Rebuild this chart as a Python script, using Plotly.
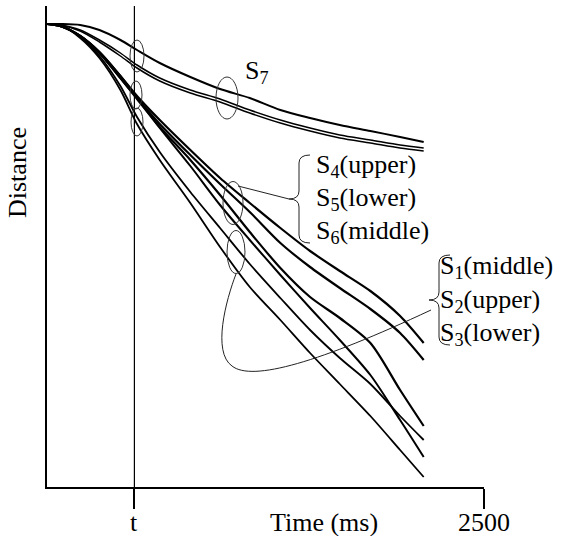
import plotly.graph_objects as go

# ---- data (time in ms, distance in arbitrary units) ----
time_ms = [0, 75, 190, 300, 420, 515, 645, 820, 990, 1160, 1335, 1505, 1675, 1850, 2020, 2155]

s7_upper = [463, 463, 462, 457, 447, 437, 424, 410, 398, 389, 377, 369, 362, 356, 350, 345]
s7_mid = [463, 462, 457, 447, 434, 422, 409, 397, 388, 377, 367, 359, 352, 347, 342, 339]
s7_low = [463, 462, 456, 445, 431, 419, 406, 394, 385, 374, 364, 356, 349, 344, 339, 336]

line_a = [463, 461, 451, 435, 411, 391, 367, 337, 309, 284, 259, 236, 216, 196, 171, 144]
line_b = [463, 461, 451, 434, 409, 389, 363, 332, 303, 275, 244, 220, 199, 178, 154, 127]
line_c = [463, 461, 451, 434, 409, 388, 360, 327, 292, 255, 219, 190, 169, 144, 97, 61]
line_d = [463, 461, 451, 435, 411, 389, 359, 321, 282, 247, 212, 179, 147, 112, 67, 30]
line_e = [463, 462, 450, 431, 401, 370, 335, 295, 259, 223, 189, 157, 129, 103, 71, 47]
line_f = [463, 462, 449, 429, 397, 363, 327, 284, 240, 200, 167, 134, 103, 71, 37, 10]

t_mark = 500
x_max = 2500
tick_vals = [t_mark, x_max]
tick_text = ["t", "2500"]

# ---- layout geometry (pixels) ----
W, H = 567, 536
L, R, T, B = 47, 83, 6, 49
PW, PH = W - L - R, H - T - B
Y_MAX = 481

def X(px):
    return (px - L) / PW * x_max

def Y(py):
    return (H - B - py) / PH * Y_MAX

def XP(px):
    return (px - L) / PW

def YP(py):
    return (H - B - py) / PH

FONT = "Liberation Serif, Times New Roman, serif"

fig = go.Figure()

series = [
    (s7_upper, 2.0), (s7_mid, 1.5), (s7_low, 1.5),
    (line_a, 2.2), (line_b, 2.2), (line_c, 2.2), (line_d, 2.0),
    (line_e, 1.8), (line_f, 1.8),
]
for ys, w in series:
    fig.add_trace(go.Scatter(x=time_ms, y=ys, mode="lines",
                             line=dict(color="black", width=w, shape="spline", smoothing=0.8),
                             showlegend=False, hoverinfo="skip"))

shapes = []
shapes.append(dict(type="line", xref="x", yref="paper", x0=t_mark, x1=t_mark, y0=0, y1=1,
                   line=dict(color="black", width=1.2)))

def ellipse(cx, cy, w, h):
    return dict(type="circle", xref="x", yref="y",
                x0=X(cx - w / 2), x1=X(cx + w / 2), y0=Y(cy + h / 2), y1=Y(cy - h / 2),
                line=dict(color="#333", width=1))

shapes += [ellipse(137, 56, 14, 32), ellipse(136, 95, 12, 28), ellipse(137, 122, 12, 28),
           ellipse(227, 98, 22, 42), ellipse(233, 203, 20, 43), ellipse(236, 252, 18, 43)]

def P(px, py):
    return f"{X(px):.2f},{Y(py):.2f}"

def brace(x, top, bot, tip):
    mid = (top + bot) / 2
    return ("M " + P(x + 11, top) + " Q " + P(x, top) + " " + P(x, top + 8) +
            " L " + P(x, mid - 8) + " Q " + P(x, mid) + " " + P(x - tip, mid) +
            " Q " + P(x, mid) + " " + P(x, mid + 8) +
            " L " + P(x, bot - 8) + " Q " + P(x, bot) + " " + P(x + 11, bot))

shapes.append(dict(type="path", xref="x", yref="y", path=brace(299, 155, 243, 10),
                   line=dict(color="#222", width=1)))
shapes.append(dict(type="path", xref="x", yref="y", path=brace(439, 255, 345, 10),
                   line=dict(color="#222", width=1)))
shapes.append(dict(type="line", xref="x", yref="y", x0=X(238), y0=Y(186), x1=X(289), y1=Y(199),
                   line=dict(color="#222", width=1)))
conn = ("M " + P(236, 274) + " C " + P(226, 300) + " " + P(212, 352) + " " + P(232, 366) +
        " C " + P(252, 382) + " " + P(320, 362) + " " + P(431, 310))
shapes.append(dict(type="path", xref="x", yref="y", path=conn,
                   line=dict(color="#222", width=1)))

annotations = []
def label(text, px, py, anchor="left", size=26, angle=0):
    annotations.append(dict(text=text, xref="paper", yref="paper", x=XP(px), y=YP(py),
                            xanchor=anchor, yanchor="middle", showarrow=False,
                            textangle=angle, font=dict(family=FONT, size=size, color="black")))

label("S<sub>7</sub>", 243, 72)
label("S<sub>4</sub>(upper)", 314, 166)
label("S<sub>5</sub>(lower)", 314, 199)
label("S<sub>6</sub>(middle)", 314, 232)
label("S<sub>1</sub>(middle)", 438, 267)
label("S<sub>2</sub>(upper)", 438, 301)
label("S<sub>3</sub>(lower)", 438, 334)
label("Time (ms)", 324, 522, anchor="center")
label("Distance", 18, 173, anchor="center", angle=-90)
# tick labels
for v, txt in zip(tick_vals, tick_text):
    annotations.append(dict(text=txt, xref="x", yref="paper", x=v, y=YP(522),
                            xanchor="center", yanchor="middle", showarrow=False,
                            font=dict(family=FONT, size=26, color="black")))

fig.update_layout(
    width=W, height=H, margin=dict(l=L, r=R, t=T, b=B, autoexpand=False),
    paper_bgcolor="white", plot_bgcolor="white",
    shapes=shapes, annotations=annotations,
    xaxis=dict(range=[0, x_max], showgrid=False, zeroline=False, showline=True,
               linecolor="black", linewidth=1.5, tickvals=tick_vals, ticktext=tick_text,
               ticks="outside", ticklen=20, tickwidth=2, tickcolor="black",
               showticklabels=False, automargin=False),
    yaxis=dict(range=[0, Y_MAX], showgrid=False, zeroline=False, showline=True,
               linecolor="black", linewidth=1.5, showticklabels=False, ticks="",
               automargin=False),
)

fig.write_html("out.html")
